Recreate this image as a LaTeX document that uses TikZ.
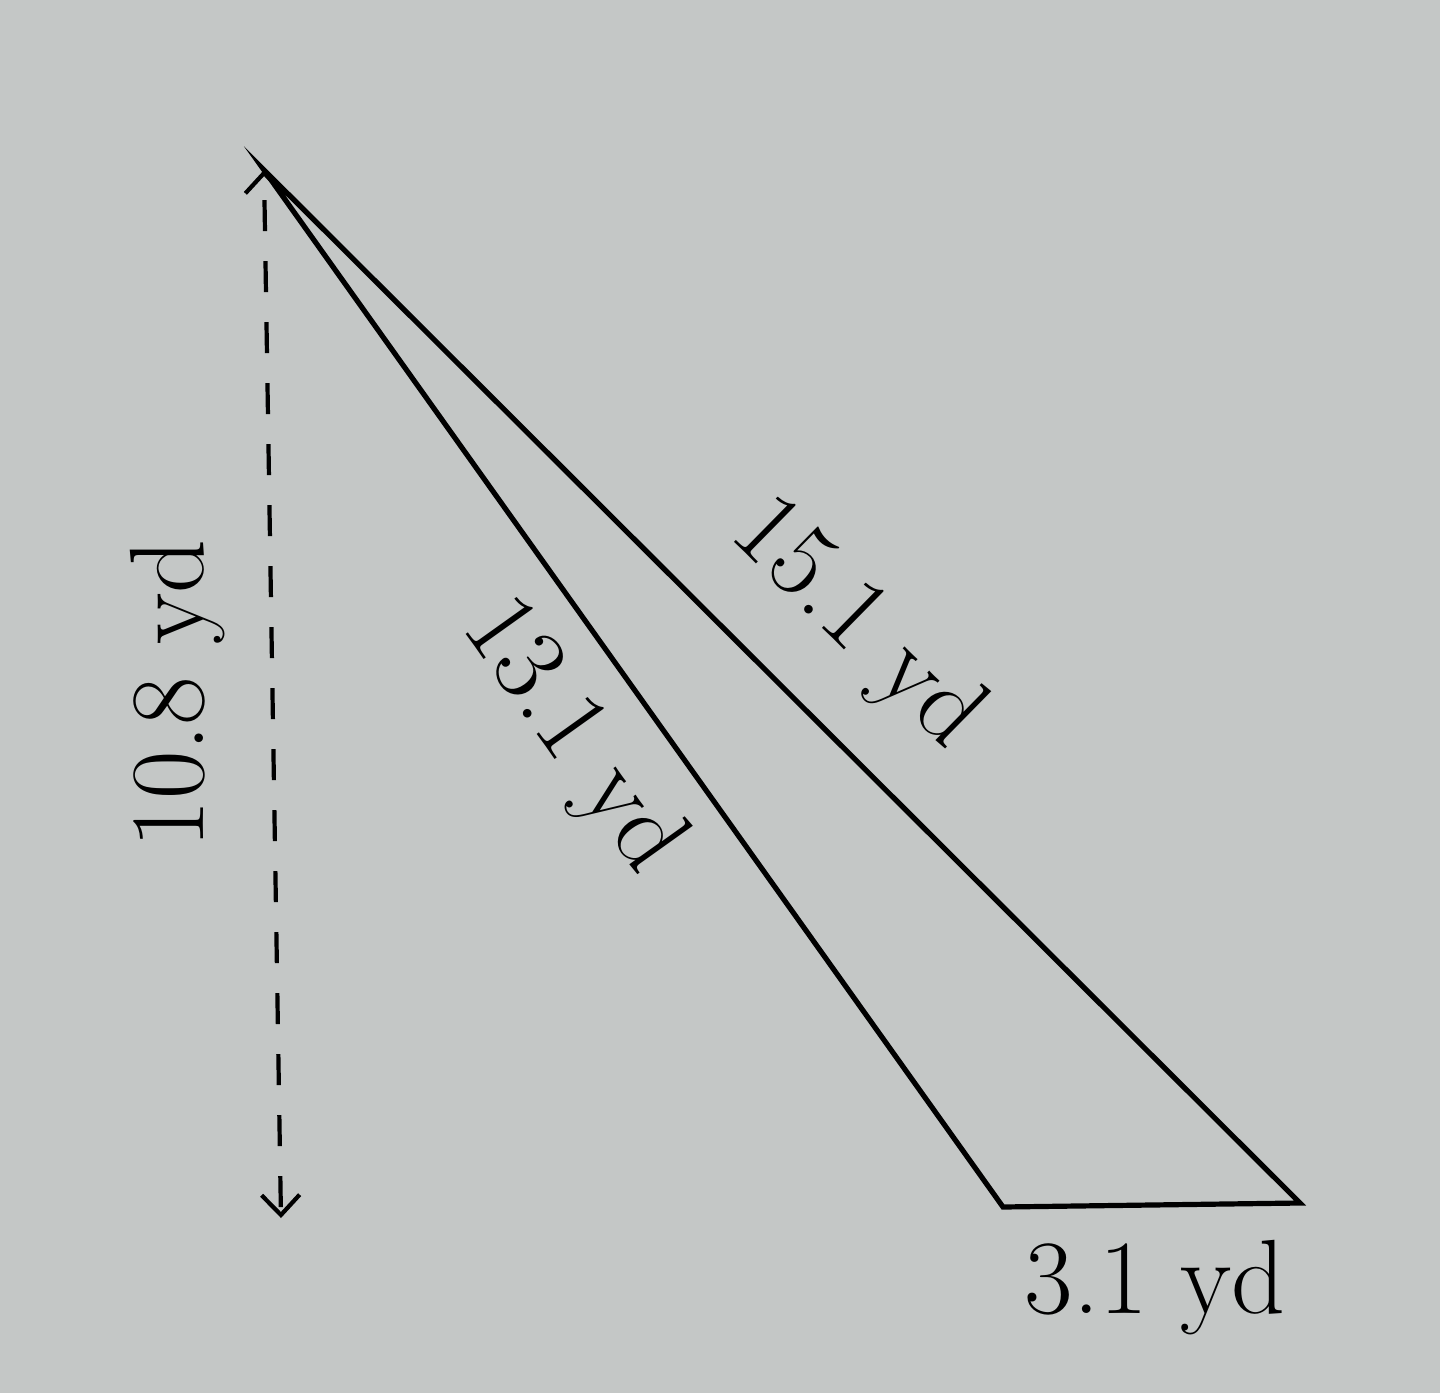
\documentclass[tikz,border=0pt]{standalone}
\usetikzlibrary{arrows.meta}
\definecolor{paper}{rgb}{0.77,0.78,0.775}
\tikzset{
  side/.style={line width=2.6bp, line join=miter, miter limit=30},
  height/.style={line width=2.1bp, dash pattern=on 15.5bp off 15bp, dash phase=18bp},
  lbl/.style={inner sep=0pt, font=\fontsize{53}{60}\selectfont},
}
\begin{document}
\begin{tikzpicture}[x=0.5bp,y=-0.5bp,>={Straight Barb[length=10bp,width=19bp,line width=2.1bp]}]
  \fill[paper] (0,0) rectangle (1440,1393);
  \useasboundingbox (0,0) rectangle (1440,1393);
%%
  % Node: apex and base corners
  \coordinate (apex) at (264,170);
  \coordinate (baseL) at (1003,1207);
  \coordinate (baseR) at (1300,1203);
  \coordinate (foot) at (281,1218);
  % Edge: apex -> foot (height)
  \draw [height,<->] (apex) -- (foot);
  % Edge: triangle
  \draw [side] (apex) -- (baseL) -- (baseR) -- cycle;
  % Node: labels
  \node [lbl,rotate=-44.5] (longlbl) at (856,625) {15.1 yd};
  \node [lbl,rotate=-54.5] (midlbl) at (571,737) {13.1 yd};
  \node [lbl] (baselbl) at (1155,1288) {3.1 yd};
  \node [lbl,rotate=90] (heightlbl) at (178,694) {10.8 yd};
%
\end{tikzpicture}
\end{document}
